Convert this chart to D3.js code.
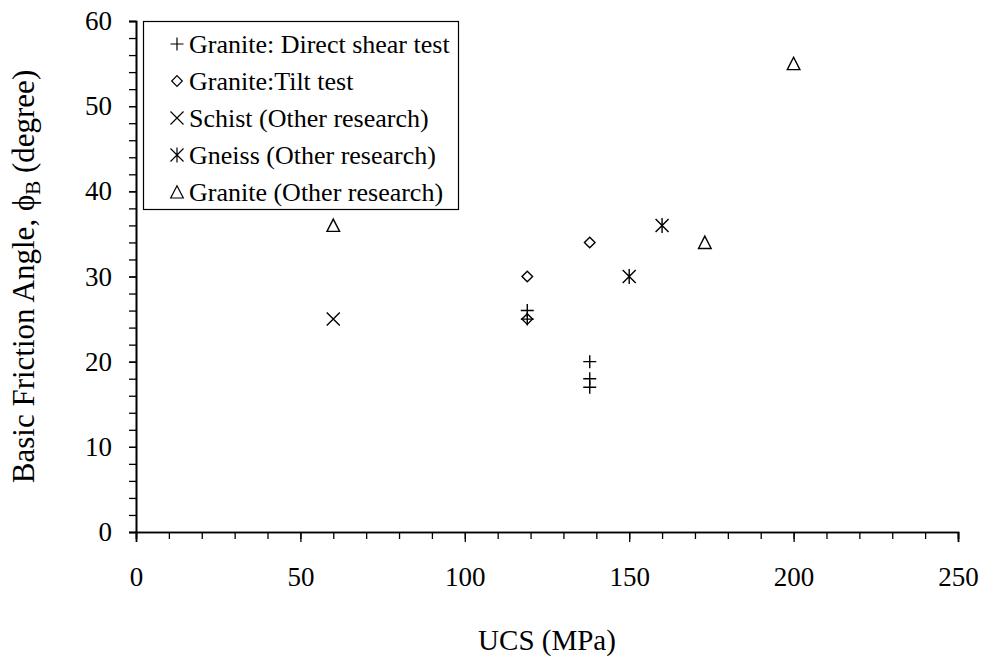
<!DOCTYPE html>
<html>
<head>
<meta charset="utf-8">
<script src="https://cdn.jsdelivr.net/npm/d3@7"></script>
<style>
  html, body { margin: 0; padding: 0; background: #fff; }
  svg { display: block; font-family: "Liberation Serif", "Times New Roman", serif; }
</style>
</head>
<body>
<svg id="chart" width="988" height="657"></svg>
<script>
// Series: UCS (MPa) vs basic friction angle (degree)
const directShearUCS = [119, 119, 138, 138, 138];
const directShearPhi = [26, 25, 20, 18, 17];
const tiltUCS = [119, 119, 138];
const tiltPhi = [30, 25, 34];
const schistUCS = [60];
const schistPhi = [25];
const gneissUCS = [150, 160];
const gneissPhi = [30, 36];
const graniteOtherUCS = [60, 173, 200];
const graniteOtherPhi = [36, 34, 55];

const seriesNames = [
  "Granite: Direct shear test",
  "Granite:Tilt test",
  "Schist (Other research)",
  "Gneiss (Other research)",
  "Granite (Other research)"
];
const symbolKinds = ["plus", "diamond", "cross", "star", "triangle"];

const xMajorTicks = [0, 50, 100, 150, 200, 250];
const yMajorTicks = [0, 10, 20, 30, 40, 50, 60];

const svg = d3.select("#chart");
const margin = { left: 136, right: 30, top: 21, bottom: 125 };
const W = 988, H = 657;

const x = d3.scaleLinear().domain([0, 250]).range([margin.left, W - margin.right]);
const y = d3.scaleLinear().domain([0, 60]).range([H - margin.bottom, margin.top]);

// marker path generators, centred at the origin
const s = 6.5;
const markerPath = {
  plus: `M${-s},0H${s}M0,${-s}V${s}`,
  diamond: `M0,-5.3L5.3,0L0,5.3L-5.3,0Z`,
  cross: `M${-s},${-s}L${s},${s}M${-s},${s}L${s},${-s}`,
  star: `M${-s},${-s}L${s},${s}M${-s},${s}L${s},${-s}M0,${-s - 1}V${s + 1}`,
  triangle: `M0,-6.3L6.3,6L-6.3,6Z`
};

const series = [
  { xs: directShearUCS, ys: directShearPhi },
  { xs: tiltUCS, ys: tiltPhi },
  { xs: schistUCS, ys: schistPhi },
  { xs: gneissUCS, ys: gneissPhi },
  { xs: graniteOtherUCS, ys: graniteOtherPhi }
];

// axes: minor ticks without labels, major ticks with labels
const xMinor = d3.axisBottom(x).tickValues(d3.range(0, 251, 10)).tickSize(7).tickFormat("");
const xMajor = d3.axisBottom(x).tickValues(xMajorTicks).tickSize(10).tickPadding(25).tickFormat(d3.format("d"));
const yMinor = d3.axisLeft(y).tickValues(d3.range(0, 61, 2)).tickSize(7).tickFormat("");
const yMajor = d3.axisLeft(y).tickValues(yMajorTicks).tickSize(7).tickPadding(17).tickFormat(d3.format("d"));

function styleAxis(g) {
  g.select(".domain").attr("stroke", "#000").attr("stroke-width", 1.6);
  g.selectAll(".tick line").attr("stroke", "#000").attr("stroke-width", 1.3);
  g.selectAll(".tick text").attr("fill", "#000")
    .style("font-family", "'Liberation Serif', serif").style("font-size", "27px");
}

const yAxisOffset = y(0);
svg.append("g").attr("transform", `translate(0,${yAxisOffset})`).call(xMinor).call(styleAxis);
svg.append("g").attr("transform", `translate(0,${yAxisOffset})`).call(xMajor).call(styleAxis);
svg.append("g").attr("transform", `translate(${x(0)},0)`).call(yMinor).call(styleAxis);
svg.append("g").attr("transform", `translate(${x(0)},0)`).call(yMajor).call(styleAxis);

// axis titles
svg.append("text")
  .attr("x", (x(0) + x(250)) / 2)
  .attr("y", 650)
  .attr("text-anchor", "middle")
  .style("font-size", "29px")
  .text("UCS (MPa)");

const yTitle = svg.append("text")
  .attr("transform", `translate(34,${(y(0) + y(60)) / 2}) rotate(-90)`)
  .attr("text-anchor", "middle")
  .style("font-size", "31px");
yTitle.append("tspan").text("Basic Friction Angle, \u03D5");
yTitle.append("tspan").attr("dy", 6).style("font-size", "21px").text("B");
yTitle.append("tspan").attr("dy", -6).text(" (degree)");

// data points
series.forEach((sr, i) => {
  svg.append("g").selectAll("path")
    .data(sr.xs.map((v, j) => [v, sr.ys[j]]))
    .join("path")
    .attr("transform", d => `translate(${x(d[0])},${y(d[1])})`)
    .attr("d", markerPath[symbolKinds[i]])
    .attr("fill", "none")
    .attr("stroke", "#000")
    .attr("stroke-width", 1.4);
});

// legend
const legend = svg.append("g");
legend.append("rect")
  .attr("x", 143.5).attr("y", 21.5)
  .attr("width", 315).attr("height", 188)
  .attr("fill", "#fff").attr("stroke", "#000").attr("stroke-width", 1.2);

seriesNames.forEach((name, i) => {
  const cy = 44 + i * 37;
  legend.append("path")
    .attr("transform", `translate(177,${cy})`)
    .attr("d", markerPath[symbolKinds[i]])
    .attr("fill", "none").attr("stroke", "#000").attr("stroke-width", 1.2);
  legend.append("text")
    .attr("x", 189).attr("y", cy + 9)
    .style("font-size", "26px")
    .text(name);
});
</script>
</body>
</html>
